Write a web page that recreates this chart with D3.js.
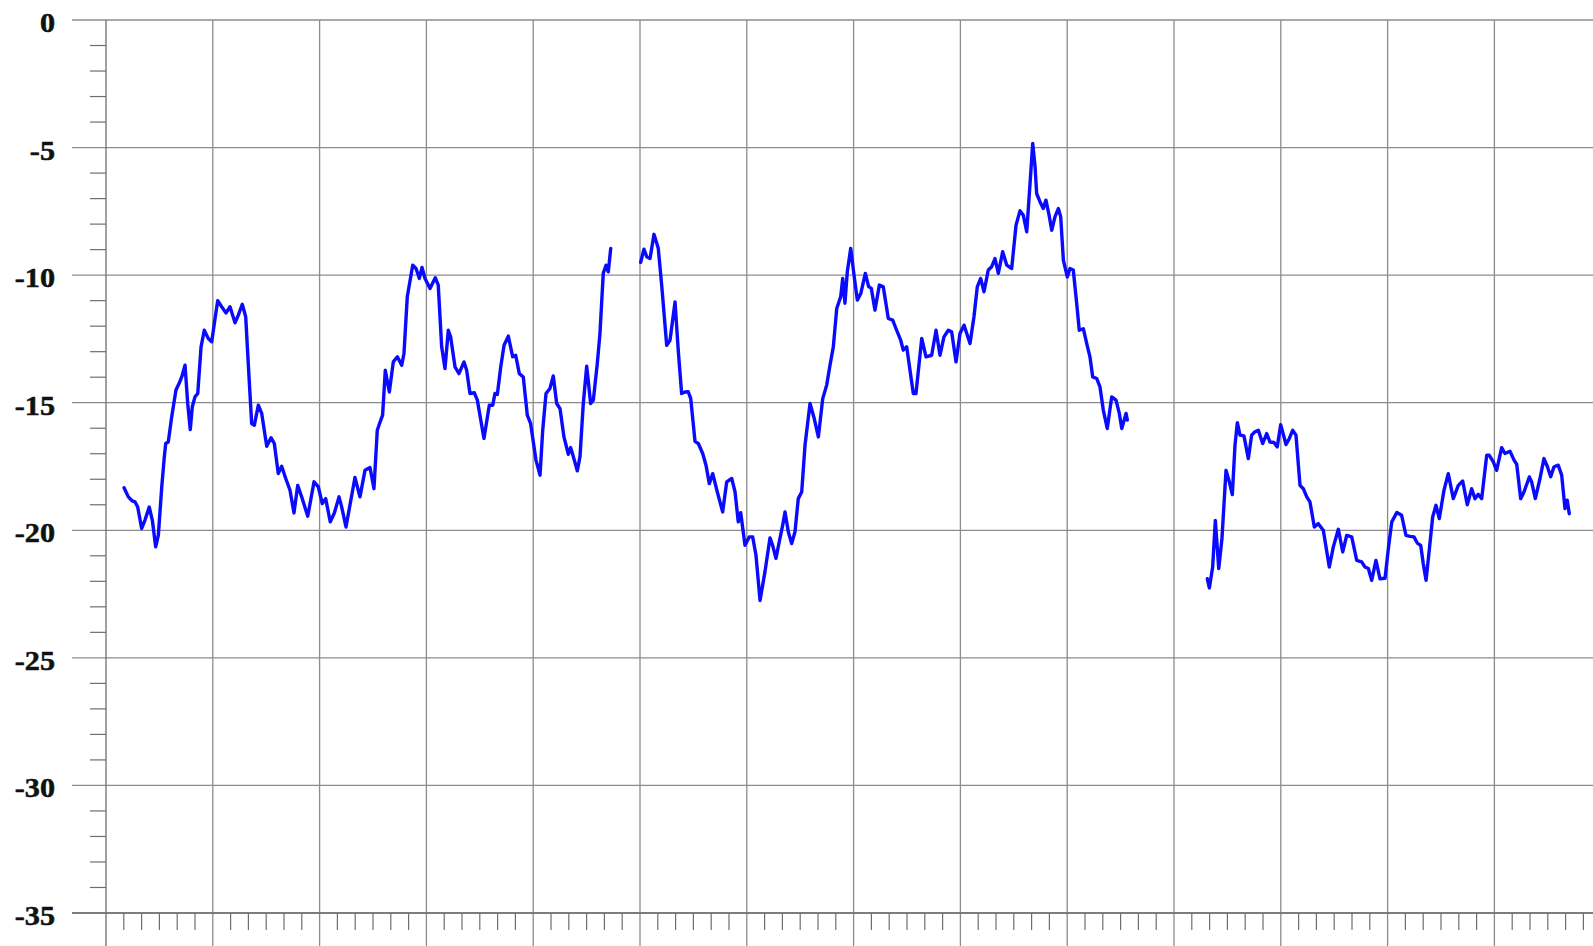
<!DOCTYPE html>
<html>
<head>
<meta charset="utf-8">
<script src="https://cdn.jsdelivr.net/npm/d3@7"></script>
<style>
html,body{margin:0;padding:0;background:#fff;overflow:hidden;}
svg{display:block;}
.ylab{font-family:"Liberation Serif","Times New Roman",Times,serif;font-weight:bold;font-size:27px;}
</style>
</head>
<body>
<svg id="chart" width="1593" height="946"></svg>
<script>
// ---- data (x in major grid units, value in chart units) ----
const yTickValues = [0, -5, -10, -15, -20, -25, -30, -35];
const yTickLabels = ["0", "-5", "-10", "-15", "-20", "-25", "-30", "-35"];
const xMajorCount = 14;
const xMinorPerMajor = 6;

const seg1X = [0.169,0.209,0.246,0.272,0.297,0.334,0.365,0.405,0.434,0.465,0.490,0.522,0.546,0.559,0.583,0.615,0.655,0.684,0.709,0.740,0.765,0.789,0.808,0.833,0.859,0.890,0.920,0.958,0.990,1.021,1.046,1.083,1.124,1.161,1.208,1.239,1.276,1.308,1.332,1.364,1.389,1.426,1.458,1.505,1.545,1.576,1.613,1.645,1.683,1.723,1.760,1.795,1.832,1.889,1.948,1.988,2.025,2.057,2.100,2.138,2.182,2.207,2.247,2.287,2.331,2.378,2.425,2.472,2.509,2.540,2.572,2.590,2.615,2.653,2.690,2.728,2.769,2.790,2.821,2.872,2.903,2.934,2.959,2.987,3.034,3.083,3.111,3.143,3.174,3.205,3.227,3.268,3.305,3.352,3.377,3.408,3.449,3.477,3.539,3.589,3.621,3.642,3.664,3.696,3.727,3.767,3.808,3.836,3.870,3.907,3.945,3.976,4.026,4.064,4.089,4.120,4.157,4.188,4.220,4.251,4.288,4.329,4.351,4.376,4.413,4.438,4.469,4.501,4.538,4.563,4.600,4.625,4.656,4.682,4.703,4.726];
const seg1V = [-18.33,-18.69,-18.85,-18.89,-19.09,-19.93,-19.6,-19.09,-19.61,-20.65,-20.2,-18.3,-17.12,-16.6,-16.54,-15.56,-14.5,-14.25,-13.99,-13.53,-15.03,-16.05,-15.16,-14.77,-14.64,-12.81,-12.16,-12.48,-12.61,-11.7,-11.0,-11.24,-11.48,-11.24,-11.87,-11.57,-11.14,-11.63,-13.46,-15.82,-15.88,-15.1,-15.42,-16.71,-16.37,-16.6,-17.78,-17.49,-17.97,-18.43,-19.32,-18.24,-18.69,-19.45,-18.1,-18.3,-18.95,-18.76,-19.67,-19.32,-18.69,-19.09,-19.87,-18.95,-17.93,-18.69,-17.65,-17.54,-18.37,-16.08,-15.69,-15.49,-13.73,-14.58,-13.4,-13.2,-13.53,-13.07,-10.85,-9.61,-9.74,-10.13,-9.7,-10.13,-10.52,-10.1,-10.39,-12.81,-13.66,-12.16,-12.42,-13.6,-13.86,-13.4,-13.73,-14.64,-14.61,-14.9,-16.4,-15.1,-15.1,-14.64,-14.68,-13.6,-12.75,-12.39,-13.2,-13.14,-13.86,-13.99,-15.49,-15.82,-17.25,-17.84,-16.08,-14.64,-14.44,-13.95,-15.03,-15.23,-16.34,-17.02,-16.76,-17.12,-17.67,-17.12,-15.03,-13.57,-15.03,-14.9,-13.47,-12.29,-9.93,-9.61,-9.87,-8.95];

const seg2X = [5.006,5.037,5.063,5.094,5.131,5.171,5.203,5.250,5.281,5.328,5.359,5.390,5.421,5.452,5.475,5.515,5.546,5.587,5.618,5.649,5.681,5.724,5.774,5.812,5.859,5.890,5.920,5.943,5.983,6.023,6.055,6.086,6.124,6.170,6.217,6.242,6.273,6.304,6.336,6.358,6.389,6.420,6.451,6.482,6.514,6.545,6.592,6.632,6.670,6.711,6.748,6.779,6.810,6.842,6.879,6.898,6.919,6.941,6.973,7.004,7.035,7.067,7.110,7.141,7.166,7.200,7.241,7.278,7.325,7.366,7.403,7.441,7.465,7.497,7.559,7.584,7.638,7.678,7.731,7.772,7.809,7.846,7.887,7.918,7.959,7.996,8.034,8.090,8.127,8.158,8.190,8.221,8.261,8.293,8.324,8.355,8.396,8.434,8.480,8.521,8.558,8.589,8.621,8.652,8.677,8.699,8.714,8.745,8.776,8.801,8.833,8.855,8.886,8.917,8.939,8.964,9.001,9.026,9.057,9.089,9.113,9.151,9.183,9.213,9.239,9.276,9.307,9.338,9.375,9.417,9.457,9.488,9.511,9.551,9.563];
const seg2V = [-9.5,-8.98,-9.28,-9.35,-8.4,-8.95,-10.39,-12.75,-12.55,-11.05,-13.0,-14.64,-14.58,-14.57,-14.84,-16.51,-16.6,-16.99,-17.45,-18.17,-17.78,-18.5,-19.28,-18.1,-17.97,-18.5,-19.67,-19.31,-20.59,-20.26,-20.26,-20.98,-22.75,-21.63,-20.3,-20.59,-21.1,-20.45,-19.8,-19.28,-20.07,-20.52,-20.07,-18.76,-18.5,-16.67,-15.03,-15.63,-16.34,-14.84,-14.31,-13.53,-12.81,-11.31,-10.85,-10.13,-11.1,-9.87,-8.95,-10.0,-10.98,-10.72,-9.93,-10.45,-10.52,-11.37,-10.39,-10.46,-11.7,-11.76,-12.16,-12.55,-12.94,-12.81,-14.64,-14.64,-12.48,-13.2,-13.14,-12.16,-13.14,-12.42,-12.16,-12.22,-13.4,-12.29,-11.96,-12.68,-11.63,-10.46,-10.13,-10.65,-9.8,-9.67,-9.35,-9.93,-9.08,-9.61,-9.74,-8.04,-7.48,-7.65,-8.3,-6.41,-4.84,-5.75,-6.8,-7.12,-7.39,-7.06,-7.71,-8.24,-7.71,-7.39,-7.71,-9.41,-10.07,-9.74,-9.8,-11.11,-12.16,-12.1,-12.68,-13.2,-13.99,-14.05,-14.38,-15.29,-16.01,-14.77,-14.9,-15.42,-16.01,-15.42,-15.68];

const seg3X = [10.312,10.331,10.362,10.387,10.419,10.449,10.487,10.518,10.546,10.571,10.593,10.618,10.655,10.696,10.727,10.758,10.790,10.830,10.868,10.899,10.936,10.967,10.999,11.049,11.080,11.111,11.142,11.180,11.211,11.243,11.273,11.314,11.351,11.398,11.454,11.492,11.539,11.580,11.617,11.664,11.711,11.757,11.788,11.820,11.851,11.891,11.929,11.976,12.007,12.039,12.087,12.131,12.172,12.210,12.247,12.278,12.310,12.334,12.360,12.390,12.422,12.453,12.484,12.528,12.568,12.615,12.662,12.703,12.746,12.787,12.818,12.849,12.881,12.928,12.952,12.990,13.021,13.068,13.099,13.146,13.184,13.209,13.246,13.277,13.327,13.349,13.383,13.427,13.464,13.495,13.527,13.558,13.598,13.630,13.661,13.682,13.701];
const seg3V = [-21.9,-22.26,-21.44,-19.61,-21.5,-20.32,-17.65,-18.1,-18.6,-16.67,-15.78,-16.27,-16.3,-17.19,-16.27,-16.14,-16.08,-16.6,-16.21,-16.54,-16.56,-16.73,-15.86,-16.64,-16.4,-16.08,-16.27,-18.24,-18.37,-18.69,-18.89,-19.87,-19.74,-20.0,-21.44,-20.65,-19.96,-20.85,-20.2,-20.26,-21.18,-21.24,-21.44,-21.5,-21.96,-21.18,-21.9,-21.88,-20.72,-19.67,-19.3,-19.41,-20.2,-20.24,-20.26,-20.5,-20.59,-21.31,-21.96,-20.78,-19.48,-19.02,-19.54,-18.43,-17.78,-18.76,-18.24,-18.07,-19.0,-18.37,-18.76,-18.59,-18.76,-17.06,-17.06,-17.32,-17.65,-16.76,-16.99,-16.9,-17.25,-17.41,-18.76,-18.5,-17.91,-18.11,-18.76,-17.97,-17.19,-17.49,-17.9,-17.51,-17.45,-17.84,-19.15,-18.82,-19.35];

// ---- layout ----
const chartW = 1593, chartH = 946;
const plotLeft = 106, plotTop = 20, plotBottom = 913;
const majorW = 106.8;
const svg = d3.select("#chart");

const x = d3.scaleLinear().domain([0, xMajorCount]).range([plotLeft, plotLeft + xMajorCount * majorW]);
const y = d3.scaleLinear().domain([-35, 0]).range([plotBottom, plotTop]);

const gridColor = "#8c8c8c";
const axisColor = "#6e6e6e";

// horizontal major grid lines (extend left of the axis as major ticks)
svg.append("g").selectAll("line").data(yTickValues).join("line")
  .attr("x1", 72).attr("x2", chartW)
  .attr("y1", d => y(d)).attr("y2", d => y(d))
  .attr("stroke", gridColor).attr("stroke-width", 1.3);

// vertical major grid lines
const xMajors = d3.range(0, xMajorCount + 1);
svg.append("g").selectAll("line").data(xMajors).join("line")
  .attr("x1", d => x(d)).attr("x2", d => x(d))
  .attr("y1", plotTop).attr("y2", chartH + 5)
  .attr("stroke", d => d === 0 ? axisColor : gridColor).attr("stroke-width", 1.3);

// y minor ticks
const yMinor = d3.range(-35, 1).filter(v => v % 5 !== 0);
svg.append("g").selectAll("line").data(yMinor).join("line")
  .attr("x1", 90).attr("x2", plotLeft)
  .attr("y1", d => y(d)).attr("y2", d => y(d))
  .attr("stroke", axisColor).attr("stroke-width", 1.2);

// x minor ticks
const xMinor = d3.range(0, xMajorCount * xMinorPerMajor).filter(i => i % xMinorPerMajor !== 0).map(i => i / xMinorPerMajor);
svg.append("g").selectAll("line").data(xMinor).join("line")
  .attr("x1", d => x(d)).attr("x2", d => x(d))
  .attr("y1", plotBottom).attr("y2", plotBottom + 17)
  .attr("stroke", axisColor).attr("stroke-width", 1.2);

// bottom axis line
svg.append("line").attr("x1", 72).attr("x2", chartW).attr("y1", y(-35)).attr("y2", y(-35))
  .attr("stroke", axisColor).attr("stroke-width", 1.4);

// y labels
svg.append("g").selectAll("text").data(yTickValues).join("text")
  .attr("class", "ylab")
  .attr("transform", d => `translate(55,${y(d) + 12}) scale(1.12,1)`)
  .attr("text-anchor", "end")
  .attr("fill", "#111")
  .attr("stroke", "#111")
  .attr("stroke-width", 0.5)
  .text((d, i) => yTickLabels[i]);

// line series
const line = d3.line().x(d => x(d[0])).y(d => y(d[1])).curve(d3.curveLinear);
const segs = [[seg1X, seg1V], [seg2X, seg2V], [seg3X, seg3V]];
svg.append("g").selectAll("path").data(segs.map(([xs, vs]) => xs.map((xv, i) => [xv, vs[i]]))).join("path")
  .attr("d", line)
  .attr("fill", "none")
  .attr("stroke", "#0a0aff")
  .attr("stroke-width", 3.4)
  .attr("stroke-linejoin", "round")
  .attr("stroke-linecap", "round");
</script>
</body>
</html>
